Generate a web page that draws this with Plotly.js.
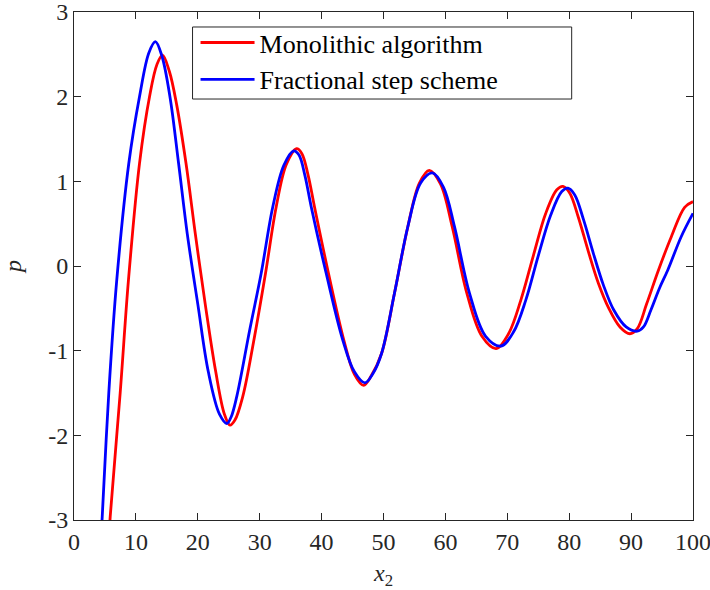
<!DOCTYPE html>
<html>
<head>
<meta charset="utf-8">
<script src="https://cdn.plot.ly/plotly-3.0.1.min.js"></script>
<style>html,body{margin:0;padding:0;background:#fff}#chart{width:710px;height:590px}</style>
</head>
<body>
<div id="chart"></div>
<script>
// Monolithic algorithm (red)
const monoX = [5.6, 5.85, 7.46, 8.80, 10.58, 12.20, 13.4, 14.3, 15.4, 16.6, 18.1, 19.6, 21.2, 22.9, 24.3, 25.2, 26.0, 27.27, 29.0, 30.94, 32.67, 34.3, 35.95, 36.8, 37.8, 38.85, 41.11, 43.59, 45.3, 46.8, 48.0, 49.7, 51.78, 53.93, 55.8, 57.4, 59.2, 61.1, 63.46, 65.9, 68.2, 70.2, 72.2, 74.2, 76.2, 78.0, 79.0, 80.1, 81.5, 83.1, 84.7, 86.4, 88.2, 89.8, 91.0, 92.5, 94.43, 96.5, 98.65, 100];
const monoY = [-3.3, -2.96, -1.50, -0.165, 1.21, 2.00, 2.38, 2.49, 2.30, 1.90, 1.21, 0.38, -0.45, -1.25, -1.75, -1.88, -1.82, -1.54, -0.90, -0.086, 0.70, 1.20, 1.385, 1.33, 1.08, 0.70, -0.086, -0.874, -1.28, -1.41, -1.30, -1.03, -0.32, 0.464, 0.98, 1.13, 0.97, 0.464, -0.32, -0.83, -0.975, -0.80, -0.40, 0.12, 0.62, 0.90, 0.94, 0.86, 0.57, 0.17, -0.20, -0.50, -0.72, -0.80, -0.74, -0.45, -0.047, 0.346, 0.693, 0.76];

// Fractional step scheme (blue)
const fracX = [4.3, 4.56, 5.62, 6.91, 8.85, 10.58, 12.1, 13.15, 14.2, 15.5, 16.9, 18.3, 20.0, 21.7, 23.5, 24.7, 25.4, 26.3, 28.4, 30.24, 32.12, 33.9, 35.5, 36.35, 37.3, 38.32, 40.74, 43.42, 45.3, 47.0, 48.3, 49.7, 51.78, 53.93, 56.0, 57.9, 59.7, 61.47, 63.89, 66.5, 69.0, 71.0, 73.0, 75.0, 77.0, 78.8, 79.8, 80.9, 82.3, 83.9, 85.5, 87.2, 89.2, 91.0, 92.0, 93.2, 94.6, 95.93, 98.09, 100];
const fracY = [-3.3, -2.96, -1.50, -0.165, 1.21, 2.00, 2.52, 2.65, 2.48, 2.0, 1.21, 0.38, -0.45, -1.25, -1.75, -1.86, -1.78, -1.54, -0.75, -0.086, 0.70, 1.19, 1.36, 1.31, 1.07, 0.70, -0.086, -0.874, -1.25, -1.38, -1.27, -1.03, -0.32, 0.464, 0.98, 1.10, 0.93, 0.464, -0.32, -0.83, -0.945, -0.78, -0.40, 0.12, 0.60, 0.88, 0.92, 0.84, 0.55, 0.15, -0.22, -0.52, -0.72, -0.77, -0.72, -0.52, -0.26, -0.047, 0.346, 0.622];

const seriesNames = ["Monolithic algorithm", "Fractional step scheme"];
const xTickVals = [0, 10, 20, 30, 40, 50, 60, 70, 80, 90, 100];
const xTickText = ["0", "10", "20", "30", "40", "50", "60", "70", "80", "90", "100"];
const yTickVals = [-3, -2, -1, 0, 1, 2, 3];
const yTickText = ["-3", "-2", "-1", "0", "1", "2", "3"];

const serif = "Liberation Serif";
const axisCol = "#262626";

const traces = [
  {x: monoX, y: monoY, name: seriesNames[0], type: "scatter", mode: "lines",
   line: {color: "#ff0000", width: 2.8, shape: "spline", smoothing: 1}},
  {x: fracX, y: fracY, name: seriesNames[1], type: "scatter", mode: "lines",
   line: {color: "#0000ff", width: 2.8, shape: "spline", smoothing: 1}}
];

const axisCommon = {
  showline: true, linecolor: axisCol, linewidth: 1, mirror: "ticks",
  ticks: "inside", ticklen: 7, tickwidth: 1, tickcolor: axisCol,
  showgrid: false, zeroline: false, ticklabeloverflow: "allow",
  tickfont: {family: serif, size: 24, color: axisCol}
};

const layout = {
  width: 710, height: 590,
  margin: {l: 74, r: 17, t: 12, b: 70},
  paper_bgcolor: "#fff", plot_bgcolor: "#fff",
  showlegend: true,
  legend: {x: (196 - 74.5) / 618.8, y: 0.986, xanchor: "left", yanchor: "top",
    bgcolor: "rgba(0,0,0,0)", borderwidth: 0,
    font: {family: serif, size: 26, color: "#000"}, itemwidth: 54, tracegroupgap: 0},
  shapes: [
    {type: "rect", xref: "paper", yref: "paper", x0: 0.1915, x1: 0.804, y0: 0.8287, y1: 0.9705,
     line: {color: axisCol, width: 1}, fillcolor: "rgba(0,0,0,0)", layer: "above"}
  ],
  xaxis: Object.assign({}, axisCommon, {range: [0, 100], tickvals: xTickVals, ticktext: xTickText,
    title: {text: "<i>x</i><sub>2</sub>", font: {family: serif, size: 24, color: axisCol}, standoff: 10}}),
  yaxis: Object.assign({}, axisCommon, {range: [-3, 3], tickvals: yTickVals, ticktext: yTickText,
    title: {text: "<i>p</i>", font: {family: serif, size: 24, color: axisCol}, standoff: 20}})
};

Plotly.newPlot("chart", traces, layout, {displayModeBar: false, staticPlot: true});
</script>
</body>
</html>
